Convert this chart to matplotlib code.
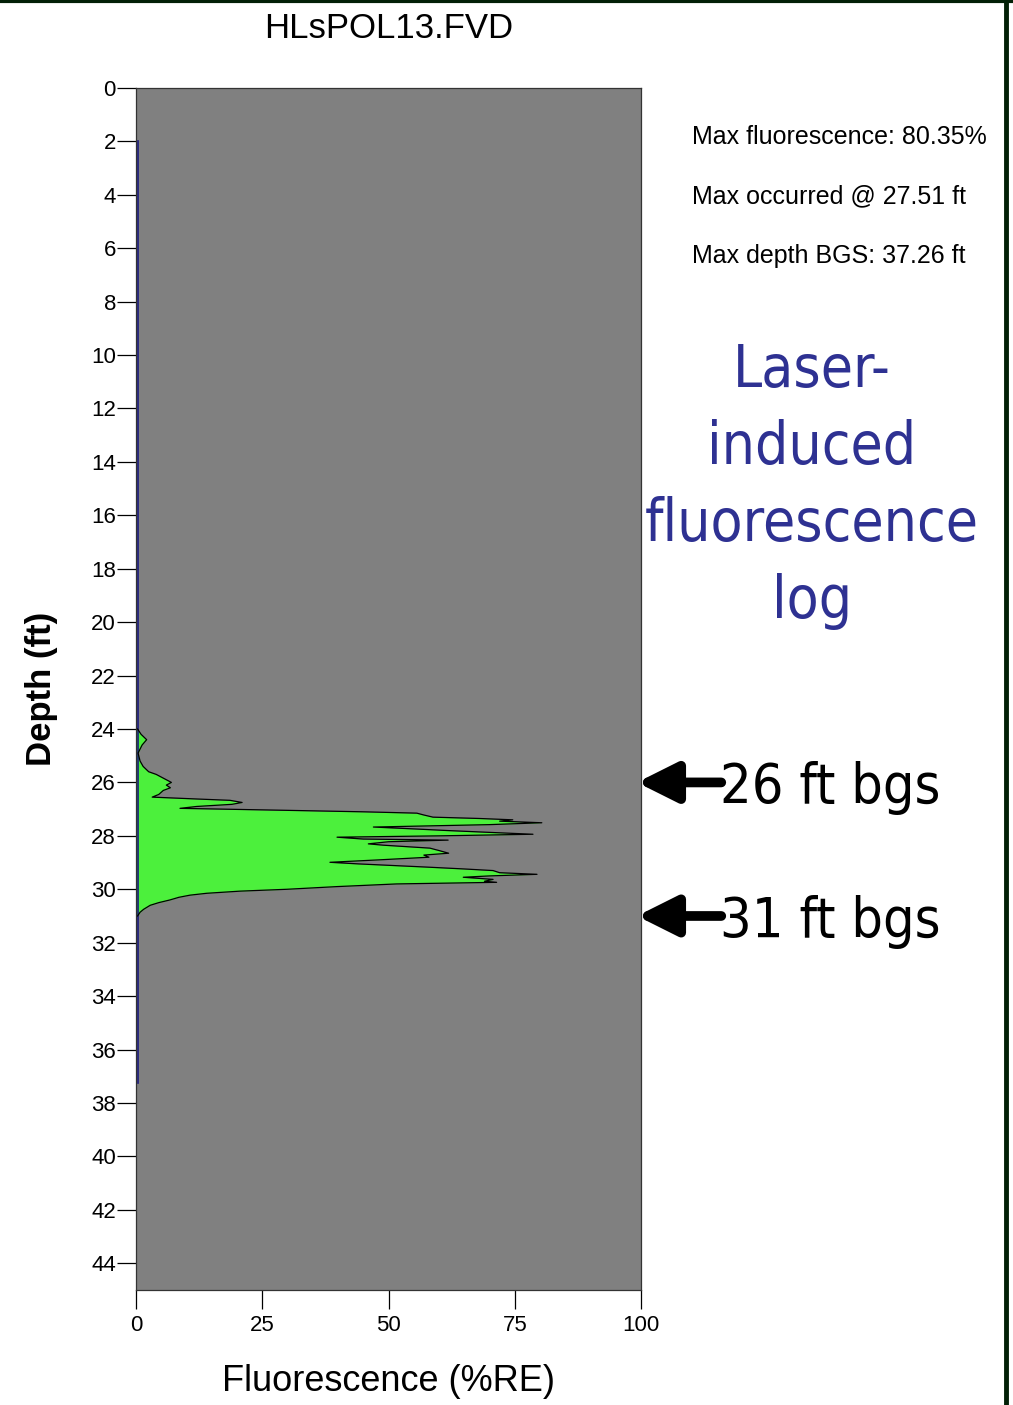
import matplotlib
matplotlib.use("Agg")
import matplotlib.pyplot as plt
from matplotlib import font_manager

depth_ft = [24.0, 24.2, 24.4, 24.6, 24.9, 25.2, 25.4, 25.6, 25.7, 25.85, 26.0, 26.1, 26.2,
            26.3, 26.45, 26.55, 26.62, 26.67, 26.75, 26.82, 26.9, 26.97, 27.04, 27.1, 27.15,
            27.22, 27.3, 27.35, 27.4, 27.45, 27.51, 27.58, 27.67, 27.74, 27.8, 27.87, 27.94,
            28.0, 28.05, 28.12, 28.16, 28.22, 28.3, 28.35, 28.46, 28.55, 28.65, 28.72, 28.8,
            28.9, 28.99, 29.05, 29.1, 29.17, 29.24, 29.3, 29.38, 29.44, 29.5, 29.55, 29.63,
            29.7, 29.74, 29.8, 29.9, 30.0, 30.07, 30.15, 30.22, 30.3, 30.4, 30.5, 30.6,
            30.75, 30.86, 31.0]
fluor_pct = [0.3, 1.0, 2.1, 1.2, 0.4, 0.8, 1.4, 2.5, 4.0, 5.5, 7.0, 6.0, 6.8,
             5.4, 4.5, 3.2, 12.0, 18.6, 21.0, 19.0, 12.0, 8.7, 28.5, 45.0, 55.6,
             57.0, 58.8, 68.0, 74.6, 72.0, 80.35, 70.0, 47.0, 55.0, 61.5, 70.0, 78.6,
             60.0, 39.8, 45.0, 61.8, 50.0, 46.0, 49.0, 58.2, 60.0, 61.9, 57.0, 58.0,
             48.0, 38.4, 44.0, 49.7, 57.6, 65.0, 70.7, 72.0, 79.4, 70.0, 64.8, 70.7,
             69.0, 71.4, 51.6, 39.8, 29.9, 20.6, 14.0, 10.7, 8.5, 6.7, 4.5, 2.8,
             1.5, 0.8, 0.3]
trace_depth = [2.0, 37.26]
trace_fluor = [0.3, 0.3]

y_ticks = list(range(0, 45, 2))
x_ticks = [0, 25, 50, 75, 100]
stats = ["Max fluorescence: 80.35%", "Max occurred @ 27.51 ft", "Max depth BGS: 37.26 ft"]
title_lines = ["Laser-", "induced", "fluorescence", "log"]
marks = [(26, "26 ft bgs"), (31, "31 ft bgs")]

# look for a narrow face for the big labels
narrow_props = dict(family=['DejaVu Sans'])
title_size, mark_size = 36, 34
for f in font_manager.fontManager.ttflist:
    nm = f.name.lower()
    st = str(f.stretch).lower()
    if ('narrow' in nm or 'condensed' in nm or 'condensed' in st) and f.weight in (400, 'normal', 'regular') \
            and f.style == 'normal' and 'mono' not in nm and 'serif' not in nm:
        narrow_props = dict(fname=f.fname)
        title_size, mark_size = 42, 40
        break
narrow_font = font_manager.FontProperties(**narrow_props)

plt.rcParams['font.family'] = ['Liberation Sans', 'DejaVu Sans']

fig = plt.figure(figsize=(10.13, 14.05), dpi=100)
ax = fig.add_axes([0.1343, 0.0819, 0.4985, 0.8555])
ax.set_facecolor('#808080')

ax.plot(trace_fluor, trace_depth, color='#1a1a80', lw=1.2)
ax.fill_betweenx(depth_ft, 0, fluor_pct, color='#4cf03c', lw=0)
ax.plot(fluor_pct, depth_ft, color='black', lw=0.9)

ax.set_xlim(0, 100)
ax.set_ylim(45, 0)
ax.set_yticks(y_ticks)
ax.set_xticks(x_ticks)
ax.tick_params(axis='both', length=14, width=0.9, labelsize=16, direction='out')
ax.tick_params(axis='y', pad=0.5)
ax.tick_params(axis='x', pad=4)
for s in ax.spines.values():
    s.set_linewidth(0.9)
    s.set_color('#333333')

ax.set_ylabel("Depth (ft)", fontsize=25, fontweight='bold', labelpad=24)
ax.set_xlabel("Fluorescence (%RE)", fontsize=26, labelpad=20)
ax.set_title("HLsPOL13.FVD", fontsize=25, pad=36)

for i, s in enumerate(stats):
    fig.text(0.683, 0.9025 - i * 0.0425, s, fontsize=18, va='center', ha='left')

fp_title = narrow_font.copy()
fp_title.set_size(title_size)
fp_mark = narrow_font.copy()
fp_mark.set_size(mark_size)
for i, s in enumerate(title_lines):
    fig.text(0.8016, 0.7365 - i * 0.0548, s, fontproperties=fp_title, color='#2e3192',
             ha='center', va='center')

inv = fig.transFigure.inverted()
for d, lab in marks:
    yf = inv.transform(ax.transData.transform((100, d)))[1]
    ax.annotate("", xy=(99.2, d), xycoords='data',
                xytext=(0.712, yf), textcoords='figure fraction', annotation_clip=False,
                arrowprops=dict(arrowstyle='-|>,head_length=0.6,head_width=0.3',
                                lw=7, color='black', mutation_scale=40, shrinkA=0, shrinkB=0))
    fig.text(0.711, yf - 0.004, lab, fontproperties=fp_mark, ha='left', va='center')

# frame lines on top and right
fig.add_artist(plt.Line2D([0, 1], [0.999, 0.999], color='#022006', lw=3))
fig.add_artist(plt.Line2D([0.9935, 0.9935], [0, 1], color='#022006', lw=3.5))

fig.savefig("out.png", dpi=100)
